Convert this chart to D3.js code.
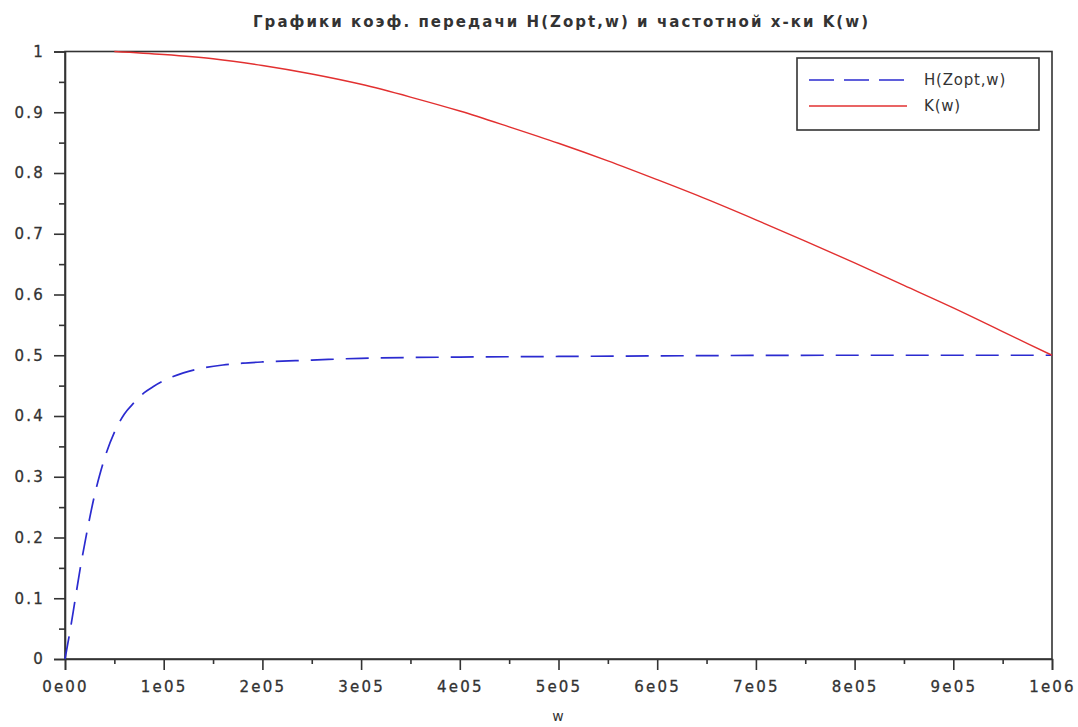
<!DOCTYPE html>
<html>
<head>
<meta charset="utf-8">
<script src="https://cdn.jsdelivr.net/npm/d3@7"></script>
<style>
  body { margin: 0; background: #fff; }
  svg { display: block; }
  text { font-family: "DejaVu Sans", sans-serif; fill: #333; }
</style>
</head>
<body>
<div id="chart"></div>
<script>
// графики H(Zopt,w) и K(w)
const wH = [0, 0.05e5, 0.1e5, 0.15e5, 0.2e5, 0.25e5, 0.3e5, 0.35e5, 0.4e5, 0.5e5, 0.6e5, 0.7e5, 0.8e5, 0.9e5, 1e5,
            1.2e5, 1.4e5, 1.6e5, 1.8e5, 2e5, 2.5e5, 3e5, 4e5, 5e5, 6e5, 8e5, 1e6];
const hVals = [0, 0.045, 0.095, 0.145, 0.19, 0.232, 0.27, 0.302, 0.33, 0.373, 0.403, 0.422, 0.438, 0.449, 0.458,
               0.471, 0.479, 0.484, 0.487, 0.489, 0.492, 0.495, 0.497, 0.498, 0.499, 0.5, 0.5];

const wK = [0.5e5, 1e5, 1.5e5, 2e5, 2.5e5, 3e5, 3.5e5, 4e5, 4.5e5, 5e5, 5.5e5, 6e5, 6.5e5, 7e5,
            7.5e5, 8e5, 8.5e5, 9e5, 9.5e5, 1e6];
const kVals = [1.0, 0.995, 0.988, 0.977, 0.963, 0.946, 0.925, 0.902, 0.876, 0.849, 0.820, 0.789, 0.757, 0.723,
               0.688, 0.652, 0.615, 0.578, 0.539, 0.5];

const xTicks = [0, 1e5, 2e5, 3e5, 4e5, 5e5, 6e5, 7e5, 8e5, 9e5, 1e6];
const xTickLabels = ["0e00", "1e05", "2e05", "3e05", "4e05", "5e05", "6e05", "7e05", "8e05", "9e05", "1e06"];
const yTicks = [0, 0.1, 0.2, 0.3, 0.4, 0.5, 0.6, 0.7, 0.8, 0.9, 1];
const yTickLabels = ["0", "0.1", "0.2", "0.3", "0.4", "0.5", "0.6", "0.7", "0.8", "0.9", "1"];
const seriesNames = ["H(Zopt,w)", "K(w)"];

const width = 1078, height = 727;
const margin = {top: 51.5, right: 26, bottom: 68, left: 65};
const innerW = width - margin.left - margin.right;
const innerH = height - margin.top - margin.bottom;

const svg = d3.select("#chart").append("svg")
  .attr("width", width).attr("height", height);
const g = svg.append("g").attr("transform", `translate(${margin.left},${margin.top})`);

const x = d3.scaleLinear().domain([0, 1e6]).range([0, innerW]);
const y = d3.scaleLinear().domain([0, 1]).range([innerH, 0]);

// frame
g.append("rect")
  .attr("width", innerW).attr("height", innerH)
  .attr("fill", "none").attr("stroke", "#333").attr("stroke-width", 1.6);

// axes
const xMinor = d3.range(0.5e5, 1e6, 1e5);
const yMinor = d3.range(0.05, 1, 0.1);

const xAxis = g.append("g").attr("transform", `translate(0,${innerH})`);
xAxis.call(d3.axisBottom(x).tickValues(xTicks).tickSize(11).tickPadding(11)
  .tickFormat((d, i) => xTickLabels[i]));
xAxis.append("g").call(d3.axisBottom(x).tickValues(xMinor).tickSize(5).tickFormat(""))
  .select(".domain").remove();

const yAxis = g.append("g");
yAxis.call(d3.axisLeft(y).tickValues(yTicks).tickSize(11).tickPadding(9)
  .tickFormat((d, i) => yTickLabels[i]));
yAxis.append("g").call(d3.axisLeft(y).tickValues(yMinor).tickSize(6).tickFormat(""))
  .select(".domain").remove();

svg.selectAll(".domain").attr("stroke", "#333").attr("stroke-width", 1.6);
svg.selectAll(".tick line").attr("stroke", "#333").attr("stroke-width", 1.6);
svg.selectAll(".tick text")
  .style("font-size", "15px").style("letter-spacing", "2.2px")
  .attr("fill", "#333").attr("stroke", "#333").attr("stroke-width", 0.3);

// curves
const line = d3.line().x(d => x(d[0])).y(d => y(d[1])).curve(d3.curveMonotoneX);

g.append("path")
  .datum(wH.map((w, i) => [w, hVals[i]]))
  .attr("d", line)
  .attr("fill", "none").attr("stroke", "#2b2bd0").attr("stroke-width", 1.7)
  .attr("stroke-dasharray", "23,12");

g.append("path")
  .datum(wK.map((w, i) => [w, kVals[i]]))
  .attr("d", line)
  .attr("fill", "none").attr("stroke", "#e23030").attr("stroke-width", 1.4);

// legend
const lg = svg.append("g").attr("transform", "translate(797,58)");
lg.append("rect").attr("width", 242).attr("height", 72)
  .attr("fill", "#fff").attr("stroke", "#333").attr("stroke-width", 1.6);
const legendStyles = [
  {color: "#2b2bd0", dash: "25,10"},
  {color: "#e23030", dash: null}
];
seriesNames.forEach((name, i) => {
  const yy = 22 + i * 26;
  lg.append("line").attr("x1", 12).attr("x2", 110).attr("y1", yy).attr("y2", yy)
    .attr("stroke", legendStyles[i].color).attr("stroke-width", 1.6)
    .attr("stroke-dasharray", legendStyles[i].dash);
  lg.append("text").attr("x", 127).attr("y", yy + 5)
    .style("font-size", "15px").style("letter-spacing", "0.8px").text(name);
});

// title and x label
svg.append("text")
  .attr("x", 253).attr("y", 27)
  .attr("textLength", 615).attr("lengthAdjust", "spacing")
  .style("font-size", "15px").style("font-weight", "bold")
  .text("Графики коэф. передачи H(Zopt,w) и частотной х-ки K(w)");

svg.append("text")
  .attr("x", 558).attr("y", 721).attr("text-anchor", "middle")
  .style("font-size", "14px")
  .text("w");
</script>
</body>
</html>
